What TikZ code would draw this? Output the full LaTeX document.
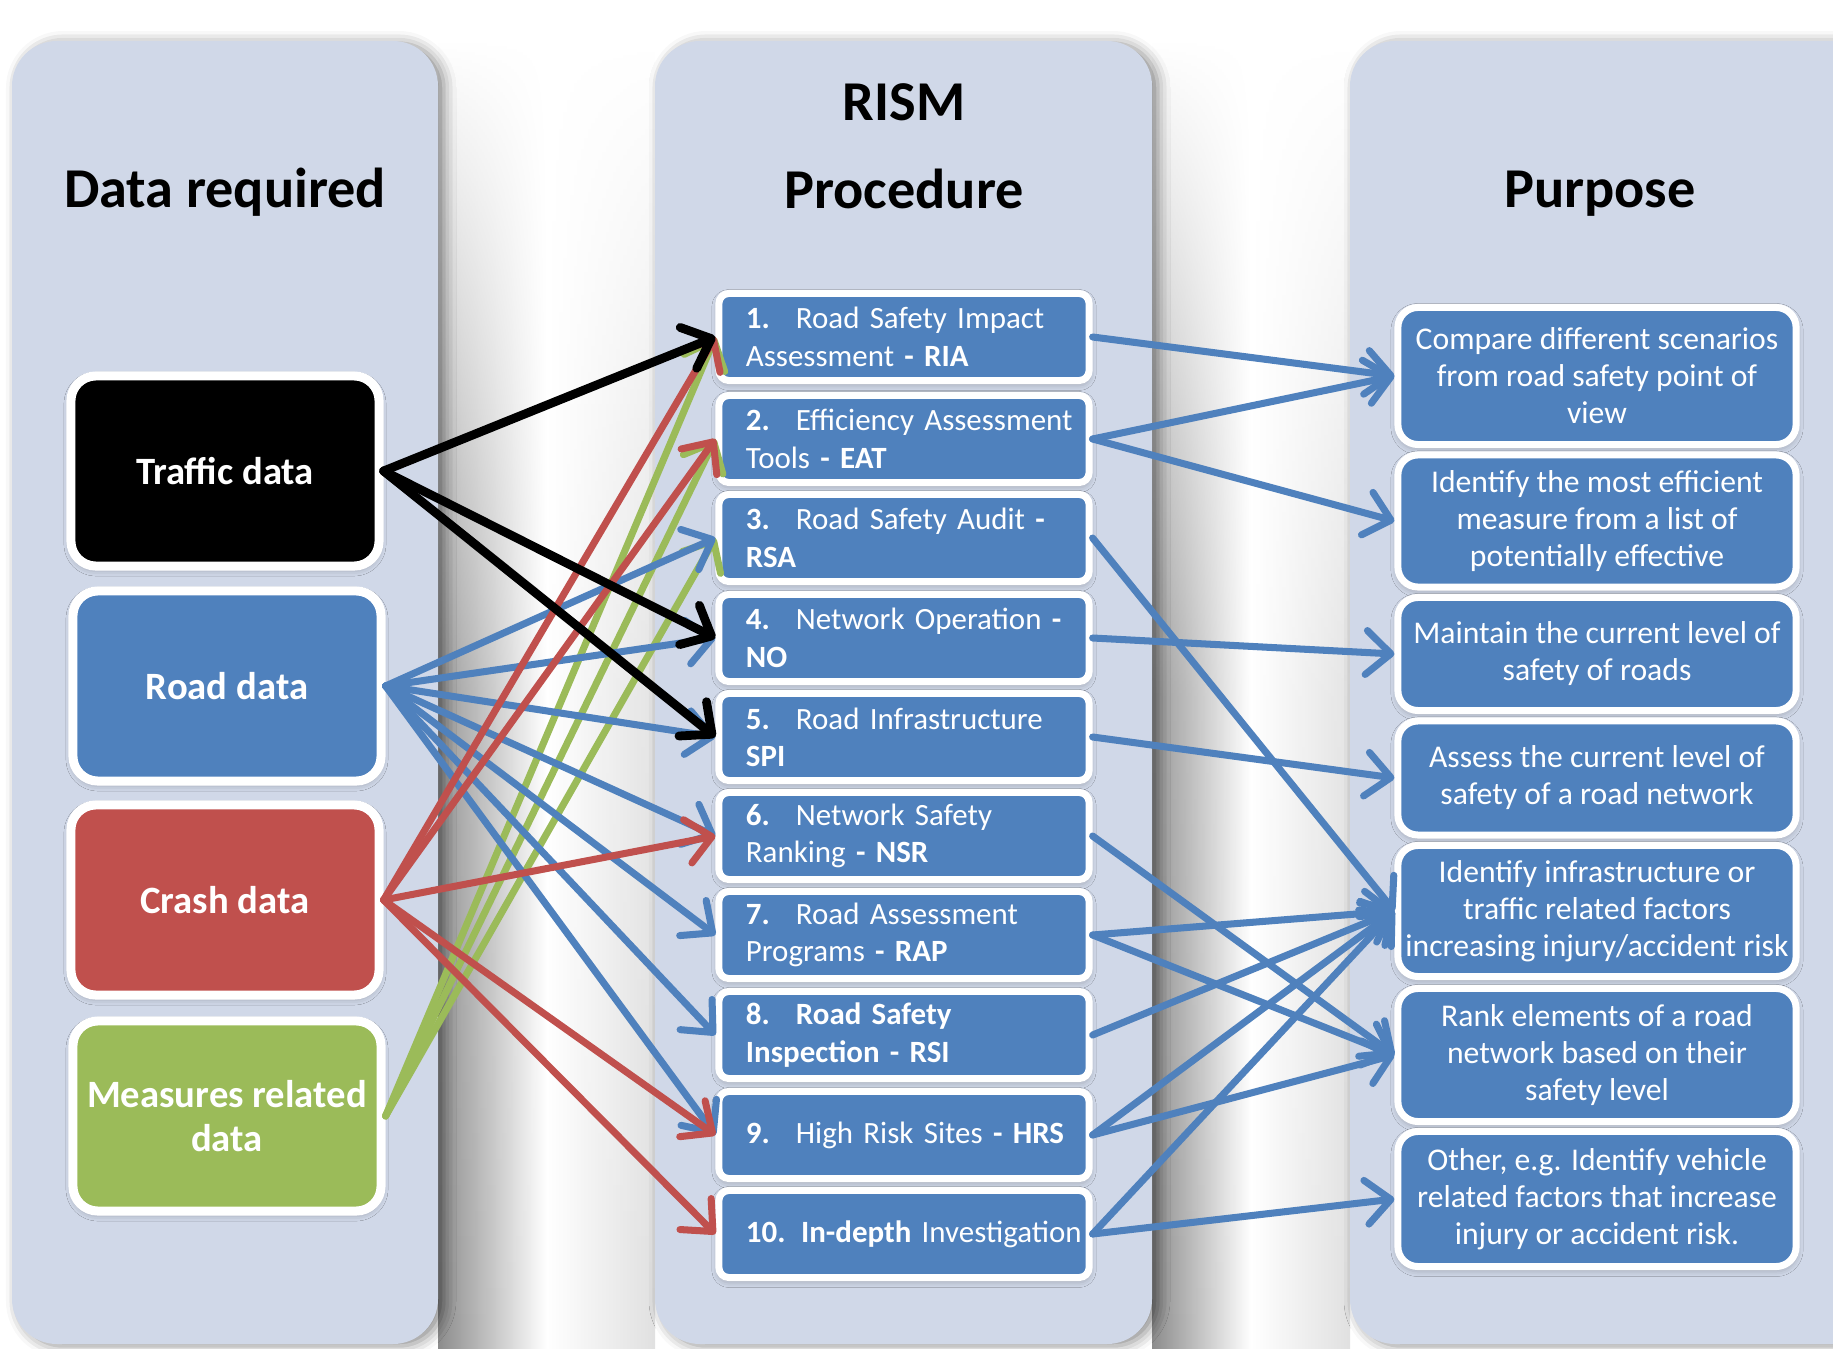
\documentclass[tikz,border=0pt]{standalone}
\usepackage{fontspec}
\setmainfont{Carlito}
\usetikzlibrary{arrows.meta,shadows.blur,fadings}

\definecolor{panel}{HTML}{D0D8E8}
\definecolor{boxblue}{HTML}{4F81BD}
\definecolor{boxred}{HTML}{C0504D}
\definecolor{boxgreen}{HTML}{9BBB59}

\tikzfading[name=fade top, top color=transparent!100, bottom color=transparent!0, middle color=transparent!10]

\newcommand{\stepno}[1]{\makebox[0.5cm][l]{\bfseries #1}}

\tikzset{
  panelbox/.style={fill=panel, rounded corners=0.45cm,
    blur shadow={shadow xshift=0.06cm, shadow yshift=-0.02cm, shadow blur radius=0.12cm, shadow opacity=45}},
  gapshade/.style={left color=black!45, right color=black!12, middle color=white, path fading=fade top},
  coltitle/.style={font=\fontsize{16}{19}\selectfont\bfseries, anchor=base},
  softshadow/.style={blur shadow={shadow xshift=0cm, shadow yshift=-0.03cm, shadow blur radius=0.07cm, shadow opacity=30}},
  databox/.style={draw=white, line width=0.09cm, rounded corners=0.25cm, minimum width=3.08cm,
    minimum height=1.9cm, inner sep=0pt, text=white, align=center,
    font=\fontsize{11}{12.5}\selectfont\bfseries, softshadow},
  stepbox/.style={draw=white, line width=0.07cm, rounded corners=0.1cm, fill=boxblue,
    minimum height=0.87cm, text width=3.16cm, inner xsep=0.27cm, inner ysep=0pt,
    align=left, text=white, font=\fontsize{8.8}{10.6}\selectfont, softshadow},
  aimbox/.style={draw=white, line width=0.07cm, rounded corners=0.2cm, fill=boxblue,
    minimum width=3.98cm, inner sep=0pt, text=white, align=center,
    font=\fontsize{9}{10.5}\selectfont, softshadow},
  link/.style={-{Straight Barb[length=7pt,width=12.5pt,round]}, line width=2pt, line cap=round, line join=round},
}

\begin{document}
\begin{tikzpicture}[x=0.01cm, y=-0.01cm]
  \useasboundingbox (0,0) rectangle (1833,1349);
  \clip (0,0) rectangle (1833,1349);

  % Shadows between the columns
  \shade[gapshade] (438,41) rectangle (655,1349);
  \shade[gapshade] (1152,41) rectangle (1350,1349);

  % Columns
  \path[panelbox] (12,41) rectangle (438,1344);
  \path[panelbox] (655,41) rectangle (1152,1344);
  \path[panelbox] (1350,41) rectangle (1900,1344);

  % Headings
  \node[coltitle] (data) at (225,208) {Data required};
  \node[coltitle] (rism) at (904,121) {RISM};
  \node[coltitle] (proc) at (904,209) {Procedure};
  \node[coltitle] (purp) at (1600,208) {Purpose};

  % Data required
  \node[databox, fill=black] (traffic) at (225,471) {Traffic data};
  \node[databox, fill=boxblue] (road) at (227,686) {Road data};
  \node[databox, fill=boxred] (crash) at (225,900) {Crash data};
  \node[databox, fill=boxgreen] (measures) at (227,1116) {Measures related\\data};

  % RISM procedure
  \node[stepbox] (s1) at (904,337) {\mbox{\stepno{1.}Road Safety Impact}\\Assessment \textbf{- RIA}};
  \node[stepbox] (s2) at (904,439) {\mbox{\stepno{2.}Efficiency Assessment}\\Tools \textbf{- EAT}};
  \node[stepbox] (s3) at (904,538) {\mbox{\stepno{3.}Road Safety Audit \textbf{-}}\\\textbf{RSA}};
  \node[stepbox] (s4) at (904,638) {\mbox{\stepno{4.}Network Operation \textbf{-}}\\\textbf{NO}};
  \node[stepbox] (s5) at (904,737) {\mbox{\stepno{5.}Road Infrastructure}\\\textbf{SPI}};
  \node[stepbox] (s6) at (904,836) {\mbox{\stepno{6.}Network Safety}\\Ranking \textbf{- NSR}};
  \node[stepbox] (s7) at (904,935) {\mbox{\stepno{7.}Road Assessment}\\Programs \textbf{- RAP}};
  \node[stepbox] (s8) at (904,1035) {\mbox{\textbf{\stepno{8.}Road Safety}}\\\textbf{Inspection - RSI}};
  \node[stepbox] (s9) at (904,1135) {\mbox{\stepno{9.}High Risk Sites \textbf{- HRS}}};
  \node[stepbox] (s10) at (904,1234) {\mbox{\textbf{10. In-depth} Investigation}};

  % Purpose
  \node[aimbox, minimum height=1.37cm] (p1) at (1597,376) {Compare different scenarios\\from road safety point of\\view};
  \node[aimbox, minimum height=1.32cm] (p2) at (1597,521) {Identify the most efficient\\measure from a list of\\potentially effective};
  \node[aimbox, minimum height=1.13cm] (p3) at (1597,654) {Maintain the current level of\\safety of roads};
  \node[aimbox, minimum height=1.14cm] (p4) at (1597,778) {Assess the current level of\\safety of a road network};
  \node[aimbox, minimum height=1.31cm] (p5) at (1597,911) {Identify infrastructure or\\traffic related factors\\increasing injury/accident risk};
  \node[aimbox, minimum height=1.33cm] (p6) at (1597,1055) {Rank elements of a road\\network based on their\\safety level};
  \node[aimbox, minimum height=1.35cm] (p7) at (1597,1199) {Other, e.g. Identify vehicle\\related factors that increase\\injury or accident risk.};

  % Measures related data
  \foreach \s in {s1,s2,s3}
    \draw[link, boxgreen] (measures.east) -- (\s.west);
  % Road data
  \foreach \s in {s3,s4,s5,s6,s7,s8,s9}
    \draw[link, boxblue] (road.east) -- (\s.west);
  % Crash data
  \foreach \s in {s1,s2,s6,s9,s10}
    \draw[link, boxred] (crash.east) -- (\s.west);
  % Traffic data
  \foreach \s in {s1,s4,s5}
    \draw[link, line width=2.5pt] (traffic.east) -- (\s.west);

  % Procedure to purpose
  \foreach \a/\b in {s1/p1, s2/p1, s2/p2, s3/p5, s4/p3, s5/p4, s6/p6,
                     s7/p5, s7/p6, s8/p5, s9/p5, s9/p6, s10/p5, s10/p7}
    \draw[link, boxblue] (\a.east) -- (\b.west);
\end{tikzpicture}
\end{document}
